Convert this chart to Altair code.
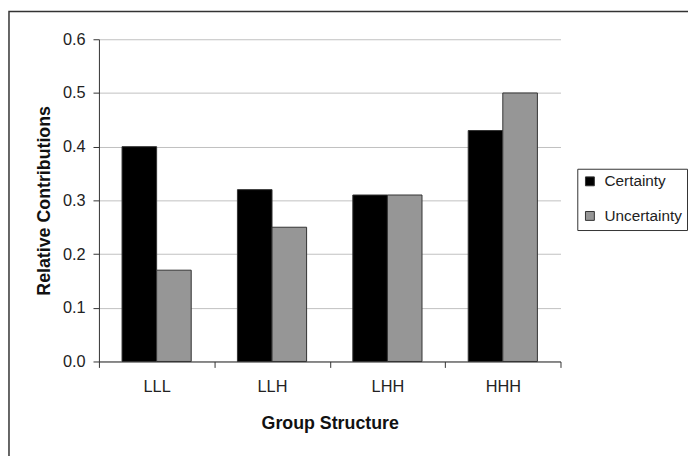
import altair as alt
import pandas as pd

groups = ["LLL", "LLH", "LHH", "HHH"]
series = ["Certainty", "Uncertainty"]
certainty = [0.40, 0.32, 0.31, 0.43]
uncertainty = [0.17, 0.25, 0.31, 0.50]
y_ticks = [0.0, 0.1, 0.2, 0.3, 0.4, 0.5, 0.6]
colors = ["#000000", "#969696"]

rows = []
for g, c, u in zip(groups, certainty, uncertainty):
    rows.append({"group": g, "series": series[0], "value": c})
    rows.append({"group": g, "series": series[1], "value": u})
df = pd.DataFrame(rows)

FONT = "Liberation Sans"

bars = alt.Chart(df).mark_bar(stroke="#333333", strokeWidth=1).encode(
    x=alt.X(
        "group:N",
        sort=groups,
        scale=alt.Scale(paddingInner=0, paddingOuter=0),
        axis=alt.Axis(
            title="Group Structure",
            tickBand="extent",
            labelAngle=0,
            tickSize=6,
            tickColor="#333333",
            domainColor="#333333",
            labelFont=FONT,
            labelFontSize=16.5,
            labelColor="#222222",
            labelPadding=11,
            titleFont=FONT,
            titleFontSize=18,
            titleFontWeight="bold",
            titleColor="#111111",
            titlePadding=20,
            grid=False,
        ),
    ),
    xOffset=alt.XOffset(
        "series:N",
        sort=series,
        scale=alt.Scale(paddingInner=0, paddingOuter=0.668),
    ),
    y=alt.Y(
        "value:Q",
        scale=alt.Scale(domain=[0, 0.6], nice=False),
        axis=alt.Axis(
            title="Relative Contributions",
            values=y_ticks,
            format=".1f",
            grid=True,
            gridColor="#c0c0c0",
            gridWidth=1,
            tickSize=6,
            tickColor="#333333",
            domainColor="#333333",
            labelFont=FONT,
            labelFontSize=16.5,
            labelColor="#222222",
            labelPadding=8,
            titleFont=FONT,
            titleFontSize=18,
            titleFontWeight="bold",
            titleColor="#111111",
            titlePadding=9,
        ),
    ),
    color=alt.Color(
        "series:N",
        sort=series,
        scale=alt.Scale(domain=series, range=colors),
        legend=alt.Legend(
            title=None,
            orient="none",
            legendX=484,
            legendY=131,
            strokeColor="#333333",
            fillColor="#ffffff",
            padding=5,
            symbolType="square",
            symbolSize=81,
            symbolStrokeColor="#333333",
            symbolStrokeWidth=1,
            labelFont=FONT,
            labelFontSize=15.5,
            labelColor="#222222",
            labelOffset=7,
            rowPadding=18,
        ),
    ),
)

border = alt.Chart(pd.DataFrame({"a": [0]})).mark_rect(
    filled=False, stroke="#333333", strokeWidth=1.5
).encode(
    x=alt.value(-91),
    y=alt.value(-28),
    x2=alt.value(900),
    y2=alt.value(900),
)

chart = alt.layer(bars, border).properties(
    width=467,
    height=326,
    autosize=alt.AutoSizeParams(type="none"),
    padding={"left": 92, "top": 29, "right": 129, "bottom": 93},
    background="#ffffff",
).configure_view(strokeWidth=0)

chart.save("out.html", embed_options={"renderer": "svg", "actions": False})
